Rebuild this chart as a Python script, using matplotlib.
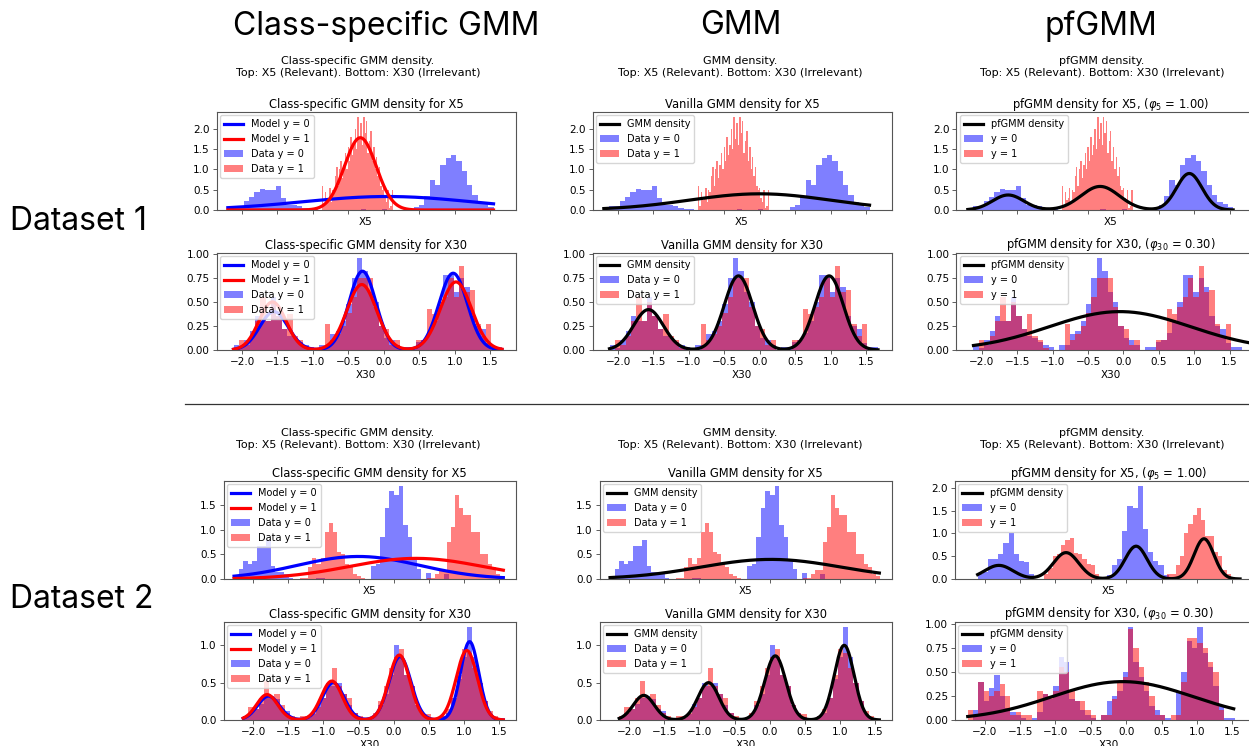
import numpy as np
import matplotlib
matplotlib.use("Agg")
import matplotlib.pyplot as plt
from matplotlib.lines import Line2D
from matplotlib.ticker import MultipleLocator

W, H = 1249, 746

# ---------------- histogram densities (first edge, bin width, heights) ----------------
# Dataset 1 / X5
d1_x5_y0_start, d1_x5_y0_width = -2.20, 0.075
d1_x5_y0 = [0.05, 0.10, 0.10, 0.22, 0.32, 0.45, 0.52, 0.50, 0.50, 0.58, 0.30, 0.12, 0.12, 0.10, 0.05, 0.03, 0.03, 0.00,
            0, 0, 0, 0, 0, 0, 0, 0.03, 0, 0, 0, 0.03, 0, 0, 0, 0, 0,
            0.08, 0.12, 0.35, 0.75, 0.62, 1.10, 1.28, 1.35, 1.20, 0.95, 0.62, 0.38, 0.20, 0.15, 0.08]
d1_x5_y1_start, d1_x5_y1_width = -0.87, 0.02
d1_x5_y1 = [0.60, 0.10, 0.45, 0.25, 0.30, 0.55, 0.20, 0.50, 0.45, 0.85,
            1.05, 0.60, 1.00, 1.20, 0.80, 1.10, 1.40, 1.00, 1.55, 1.20,
            1.80, 1.35, 1.60, 2.00, 1.50, 2.30, 1.75, 2.15, 1.60, 2.30,
            1.90, 2.20, 1.40, 1.70, 1.95, 1.20, 1.55, 1.00, 1.30, 0.85,
            1.05, 0.60, 0.50, 0.55, 0.30, 0.20, 0.50, 0.05, 0.10, 0.50]

# Dataset 1 / X30
d1_x30_start, d1_x30_width = -2.12, 0.0758
d1_x30_y0 = [0.05, 0.02, 0.10, 0.20, 0.35, 0.30, 0.30, 0.55, 0.35, 0.22, 0.15, 0.12, 0.08, 0.05, 0.03,
             0.00,
             0.05, 0.05, 0.17, 0.20, 0.30, 0.48, 0.75, 0.96, 0.82, 0.60, 0.50, 0.25, 0.12, 0.10, 0.05,
             0.00,
             0.03, 0.03, 0.08, 0.10, 0.18, 0.30, 0.50, 0.78, 0.78, 0.60, 0.75, 0.65, 0.35, 0.25, 0.22, 0.07, 0.03, 0.03]
d1_x30_y1 = [0.00, 0.10, 0.05, 0.15, 0.30, 0.55, 0.30, 0.50, 0.35, 0.22, 0.37, 0.15, 0.10, 0.02,
             0.00, 0.00, 0.00,
             0.27, 0.10, 0.17, 0.25, 0.38, 0.55, 0.75, 0.75, 0.75, 0.45, 0.25, 0.22, 0.05, 0.10,
             0.00, 0.00, 0.00,
             0.10, 0.10, 0.43, 0.37, 0.45, 0.55, 0.75, 0.55, 0.87, 0.60, 0.62, 0.27, 0.15, 0.27,
             0.00, 0.00]

# Dataset 2 / X5
d2_x5_y0_start, d2_x5_y0_width = -2.27, 0.065
d2_x5_y0 = [0.07, 0.20, 0.37, 0.30, 0.37, 0.67, 0.67, 0.80, 0.27, 0.15, 0.15, 0.10, 0.03,
            0, 0, 0, 0, 0, 0.03, 0.03, 0, 0, 0, 0, 0, 0, 0, 0, 0, 0,
            0.27, 0.30, 0.85, 1.45, 1.80, 1.70, 1.90, 1.10, 0.85, 0.40, 0.20, 0.00, 0.12,
            0, 0, 0, 0.10]
d2_x5_y1_start, d2_x5_y1_width = -1.33, 0.058
d2_x5_y1 = [0.03, 0.03, 0.25, 0.42, 0.30, 0.42, 0.95, 1.14, 0.95, 0.55, 0.50, 0.30, 0.25, 0.10, 0.07, 0.03,
            0, 0, 0, 0, 0, 0, 0, 0, 0, 0, 0, 0, 0, 0, 0,
            0.03, 0.03, 0.10, 0.18, 0.18, 0.75, 1.05, 1.70, 1.45, 1.30, 1.30, 0.95, 0.95, 0.50, 0.50,
            0.30, 0.25, 0.10, 0.07]

# Dataset 2 / X30
d2_x30_start, d2_x30_width = -2.14, 0.074
d2_x30_y0 = [0.03, 0.10, 0.15, 0.22, 0.30, 0.32, 0.28, 0.15, 0.12, 0.03,
             0.02, 0.00, 0.03, 0.08, 0.22, 0.30, 0.50, 0.45, 0.50, 0.35,
             0.20, 0.10, 0.03, 0.00, 0.02, 0.07, 0.20, 0.35, 0.60, 1.00,
             0.85, 0.60, 0.45, 0.20, 0.10, 0.04, 0.02, 0.00, 0.05, 0.10,
             0.30, 0.55, 0.85, 1.25, 0.85, 0.50, 0.25, 0.08, 0.03, 0.02]
d2_x30_y1 = [0.05, 0.17, 0.15, 0.30, 0.52, 0.30, 0.35, 0.20, 0.10, 0.05,
             0.02, 0.05, 0.05, 0.10, 0.18, 0.30, 0.45, 0.70, 0.45, 0.35,
             0.30, 0.10, 0.05, 0.02, 0.03, 0.10, 0.25, 0.45, 0.70, 0.85,
             0.95, 0.60, 0.45, 0.20, 0.10, 0.08, 0.03, 0.02, 0.05, 0.15,
             0.30, 0.60, 0.95, 0.90, 0.70, 0.50, 0.25, 0.12, 0.05, 0.02]

# Dataset 2, sample shown with the pfGMM fit
d2pf_x5_y0_start, d2pf_x5_y0_width = -2.10, 0.073
d2pf_x5_y0 = [0.10, 0.15, 0.45, 0.45, 0.55, 0.78, 1.00, 0.55, 0.40, 0.38, 0.12,
              0, 0, 0, 0, 0, 0, 0, 0, 0, 0, 0, 0, 0, 0,
              0.08, 0.30, 0.45, 1.05, 1.60, 1.55, 2.05, 1.10, 0.60, 0.40, 0.30, 0.08]
d2pf_x5_y1_start, d2pf_x5_y1_width = -1.16, 0.06
d2pf_x5_y1 = [0.10, 0.25, 0.50, 0.55, 0.75, 0.85, 0.90, 0.58, 0.55, 0.45, 0.32, 0.30, 0.10,
              0, 0, 0, 0, 0, 0, 0, 0, 0, 0, 0, 0, 0, 0, 0, 0,
              0.10, 0.12, 0.30, 0.50, 1.00, 1.20, 1.40, 1.55, 1.30, 0.95, 0.95, 0.60, 0.50, 0.20, 0.10]
d2pf_x30_start, d2pf_x30_width = -2.24, 0.0755
d2pf_x30_y0 = [0.00, 0.10, 0.40, 0.20, 0.33, 0.47, 0.25, 0.12, 0.08, 0.05,
               0.02, 0.00, 0.02, 0.08, 0.27, 0.22, 0.35, 0.65, 0.60, 0.22,
               0.20, 0.10, 0.05, 0.02, 0.00, 0.05, 0.20, 0.25, 0.30, 0.50,
               0.97, 0.60, 0.45, 0.30, 0.15, 0.10, 0.05, 0.02, 0.00, 0.30,
               0.50, 0.82, 0.75, 0.97, 0.70, 0.55, 0.35, 0.15, 0.02, 0.02]
d2pf_x30_y1 = [0.10, 0.05, 0.40, 0.30, 0.25, 0.30, 0.37, 0.25, 0.05, 0.08,
               0.05, 0.05, 0.00, 0.30, 0.27, 0.25, 0.30, 0.55, 0.50, 0.30,
               0.20, 0.20, 0.10, 0.05, 0.00, 0.05, 0.05, 0.22, 0.38, 0.45,
               0.95, 0.75, 0.55, 0.40, 0.25, 0.05, 0.05, 0.00, 0.05, 0.05,
               0.40, 0.85, 0.85, 0.80, 0.75, 0.60, 0.50, 0.10, 0.00, 0.00]

# ---------------- fitted mixture components: means, std devs, weights ----------------
d1_x5_cs0 = ([0.05], [1.20], [1.0])
d1_x5_cs1 = ([-0.33], [0.224], [1.0])
d1_x5_gmm = ([0.0], [1.0], [1.0])
d1_x5_pf = ([-1.63, -0.33, 0.93], [0.22, 0.27, 0.18], [0.204, 0.393, 0.406])
d1_x30_cs0 = ([-1.55, -0.30, 0.98], [0.20, 0.19, 0.20], [0.20, 0.39, 0.40])
d1_x30_cs1 = ([-1.57, -0.31, 1.02], [0.19, 0.21, 0.22], [0.238, 0.358, 0.39])
d1_x30_gmm = ([-1.57, -0.30, 0.98], [0.21, 0.20, 0.20], [0.221, 0.386, 0.386])
d1_x30_pf = ([-0.05], [1.0], [1.0])

d2_x5_cs0 = ([-0.50], [0.87], [1.0])
d2_x5_cs1 = ([0.32], [0.95], [1.0])
d2_x5_gmm = ([0.02], [1.0], [1.0])
d2_x5_pf = ([-1.80, -0.85, 0.14, 1.10], [0.20, 0.179, 0.155, 0.14], [0.15, 0.26, 0.28, 0.31])
d2_x30_cs0 = ([-1.78, -0.86, 0.09, 1.08], [0.155, 0.155, 0.155, 0.13], [0.124, 0.194, 0.33, 0.342])
d2_x30_cs1 = ([-1.80, -0.88, 0.08, 1.04], [0.15, 0.15, 0.15, 0.15], [0.128, 0.196, 0.327, 0.35])
d2_x30_gmm = ([-1.79, -0.87, 0.08, 1.06], [0.15, 0.15, 0.15, 0.14], [0.124, 0.188, 0.323, 0.351])
d2_x30_pf = ([-0.05], [1.0], [1.0])

# feature ranges over which the densities are evaluated
d1_x5_range, d1_x30_range = (-2.20, 1.55), (-2.12, 1.67)
d1pf_x30_range = (-2.12, 1.95)
d2_x5_range, d2_x30_range = (-2.27, 1.56), (-2.14, 1.56)
d2pf_x5_range, d2pf_x30_range = (-2.10, 1.61), (-2.24, 1.52)

x_ticks = [-2.0, -1.5, -1.0, -0.5, 0.0, 0.5, 1.0, 1.5]

col_headers = ["Class-specific GMM", "GMM", "pfGMM"]
row_headers = ["Dataset 1", "Dataset 2"]
group_titles = ["Class-specific GMM density.\nTop: X5 (Relevant). Bottom: X30 (Irrelevant)",
                "GMM density.\nTop: X5 (Relevant). Bottom: X30 (Irrelevant)",
                "pfGMM density.\nTop: X5 (Relevant). Bottom: X30 (Irrelevant)"]


def mixture(x, comp):
    m, s, w = (np.asarray(v, dtype=float) for v in comp)
    z = (x[:, None] - m) / s
    return (w * np.exp(-0.5 * z ** 2) / (s * np.sqrt(2 * np.pi))).sum(axis=1)


def draw_hist(ax, start, width, heights, color, label):
    heights = np.asarray(heights, dtype=float)
    edges = start + width * np.arange(len(heights))
    ax.bar(edges, heights, width=width, align="edge", color=color, alpha=0.5,
           linewidth=0, label=label)


def panel(ax, h0, h1, curves, xr, title, xlabel, hlabels, ticklabels, ystep):
    draw_hist(ax, *h0, "blue", hlabels[0])
    draw_hist(ax, *h1, "red", hlabels[1])
    x = np.linspace(xr[0], xr[1], 400)
    for comp, color, label in curves:
        ax.plot(x, mixture(x, comp), color=color, lw=2.3, label=label)
    ax.set_title(title, fontsize=8.3, pad=3)
    ax.set_xlabel(xlabel, fontsize=7.5, labelpad=2)
    ax.set_xticks(x_ticks)
    ax.yaxis.set_major_locator(MultipleLocator(ystep))
    ax.tick_params(labelsize=7.5, length=3, width=0.6, color="#444444", pad=2,
                   labelbottom=ticklabels)
    for sp in ax.spines.values():
        sp.set_color("#555555")
        sp.set_linewidth(0.8)
    ax.legend(loc="upper left", fontsize=7, borderaxespad=0.35)


fig = plt.figure(figsize=(W / 100, H / 100), dpi=100)


def add_ax(x0, x1, y0, y1):
    return fig.add_axes([x0 / W, 1 - y1 / H, (x1 - x0) / W, (y1 - y0) / H])


datasets = [
    dict(rows=((112, 210), (253, 350)),
         cols=((216.5, 515.5), (592.5, 891.5), (956.5, 1265)),
         xlims=((-2.36, 1.86), (-2.36, 1.86), (-2.36, 2.0)),
         x5=((d1_x5_y0_start, d1_x5_y0_width, d1_x5_y0), (d1_x5_y1_start, d1_x5_y1_width, d1_x5_y1)),
         x30=((d1_x30_start, d1_x30_width, d1_x30_y0), (d1_x30_start, d1_x30_width, d1_x30_y1)),
         pf_x5=((d1_x5_y0_start, d1_x5_y0_width, d1_x5_y0), (d1_x5_y1_start, d1_x5_y1_width, d1_x5_y1)),
         pf_x30=((d1_x30_start, d1_x30_width, d1_x30_y0), (d1_x30_start, d1_x30_width, d1_x30_y1)),
         ranges=(d1_x5_range, d1_x30_range, d1_x5_range, d1pf_x30_range),
         models=(d1_x5_cs0, d1_x5_cs1, d1_x5_gmm, d1_x5_pf, d1_x30_cs0, d1_x30_cs1, d1_x30_gmm, d1_x30_pf),
         ysteps=((0.5, 0.25), (0.5, 0.25), (0.5, 0.25)),
         sub_y=67),
    dict(rows=((481, 579), (622, 720)),
         cols=((223.5, 516), (599.5, 892), (955, 1262)),
         xlims=((-2.42, 1.74), (-2.42, 1.74), (-2.42, 1.92)),
         x5=((d2_x5_y0_start, d2_x5_y0_width, d2_x5_y0), (d2_x5_y1_start, d2_x5_y1_width, d2_x5_y1)),
         x30=((d2_x30_start, d2_x30_width, d2_x30_y0), (d2_x30_start, d2_x30_width, d2_x30_y1)),
         pf_x5=((d2pf_x5_y0_start, d2pf_x5_y0_width, d2pf_x5_y0),
                (d2pf_x5_y1_start, d2pf_x5_y1_width, d2pf_x5_y1)),
         pf_x30=((d2pf_x30_start, d2pf_x30_width, d2pf_x30_y0), (d2pf_x30_start, d2pf_x30_width, d2pf_x30_y1)),
         ranges=(d2_x5_range, d2_x30_range, d2pf_x5_range, d2pf_x30_range),
         models=(d2_x5_cs0, d2_x5_cs1, d2_x5_gmm, d2_x5_pf, d2_x30_cs0, d2_x30_cs1, d2_x30_gmm, d2_x30_pf),
         ysteps=((0.5, 0.5), (0.5, 0.5), (0.5, 0.25)),
         sub_y=439),
]

sub_x = (358, 740, 1102)

for ds in datasets:
    (top, bot) = ds["rows"]
    cs0_5, cs1_5, gmm_5, pf_5, cs0_30, cs1_30, gmm_30, pf_30 = ds["models"]
    r5, r30, rpf5, rpf30 = ds["ranges"]
    for c in range(3):
        x0, x1 = ds["cols"][c]
        ax_t = add_ax(x0, x1, *top)
        ax_b = add_ax(x0, x1, *bot)
        if c == 0:
            curves5 = [(cs0_5, "blue", "Model y = 0"), (cs1_5, "red", "Model y = 1")]
            curves30 = [(cs0_30, "blue", "Model y = 0"), (cs1_30, "red", "Model y = 1")]
            titles = ("Class-specific GMM density for X5", "Class-specific GMM density for X30")
            hl = ("Data y = 0", "Data y = 1")
            h5, h30, rr5, rr30 = ds["x5"], ds["x30"], r5, r30
        elif c == 1:
            curves5 = [(gmm_5, "black", "GMM density")]
            curves30 = [(gmm_30, "black", "GMM density")]
            titles = ("Vanilla GMM density for X5", "Vanilla GMM density for X30")
            hl = ("Data y = 0", "Data y = 1")
            h5, h30, rr5, rr30 = ds["x5"], ds["x30"], r5, r30
        else:
            curves5 = [(pf_5, "black", "pfGMM density")]
            curves30 = [(pf_30, "black", "pfGMM density")]
            titles = (r"pfGMM density for X5, ($\varphi_5$ = 1.00)",
                      r"pfGMM density for X30, ($\varphi_{30}$ = 0.30)")
            hl = ("y = 0", "y = 1")
            h5, h30, rr5, rr30 = ds["pf_x5"], ds["pf_x30"], rpf5, rpf30
        st, sb = ds["ysteps"][c]
        panel(ax_t, h5[0], h5[1], curves5, rr5, titles[0], "X5", hl, False, st)
        panel(ax_b, h30[0], h30[1], curves30, rr30, titles[1], "X30", hl, True, sb)
        ax_t.set_xlim(*ds["xlims"][c])
        ax_b.set_xlim(*ds["xlims"][c])
        fig.text(sub_x[c] / W, 1 - ds["sub_y"] / H, group_titles[c], ha="center", va="center",
                 fontsize=8, multialignment="center")

# column and row headers
head_x = (386, 741, 1101)
for name, hx in zip(col_headers, head_x):
    fig.text(hx / W, 1 - 26 / H, name, ha="center", va="center", fontsize=23, family="Inter")
for name, hy in zip(row_headers, (222, 600)):
    fig.text(10 / W, 1 - hy / H, name, ha="left", va="center", fontsize=23, family="Inter")

fig.add_artist(Line2D([185 / W, 1.0], [1 - 404 / H, 1 - 404 / H], transform=fig.transFigure,
                      color="#333333", lw=0.9))

fig.savefig("out.png", dpi=100)
